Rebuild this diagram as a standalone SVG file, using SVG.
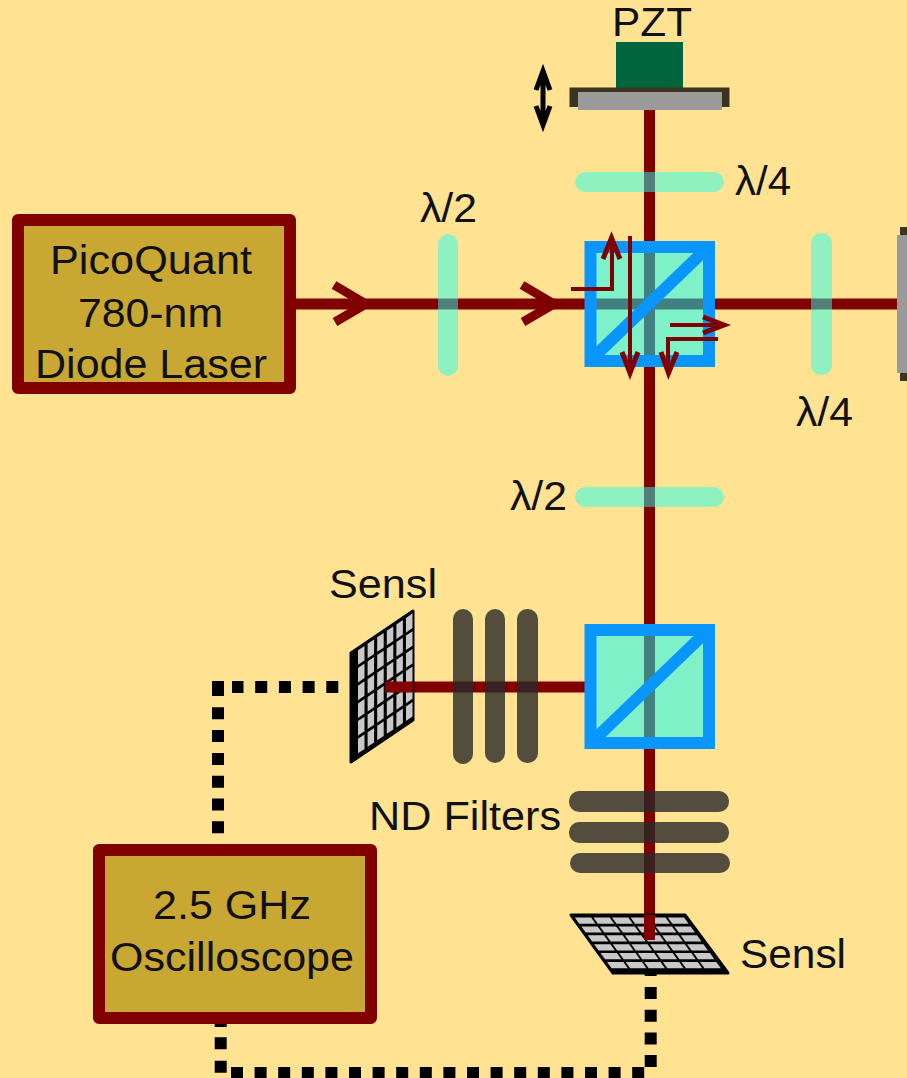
<svg xmlns="http://www.w3.org/2000/svg" width="907" height="1078" viewBox="0 0 907 1078">
<style>
text{font-family:"Liberation Sans",Arial,sans-serif;font-size:40px;fill:#111}
.beam{fill:none;stroke:#800000;stroke-width:11}
.box{fill:#c8a832;stroke:#800000;stroke-width:12;stroke-linejoin:round}
.wp{fill:#20ffee;fill-opacity:.5}
.nd{fill:#282828;fill-opacity:.8}
.cube{fill:#00ffff;fill-opacity:.5;stroke:none}
.frame-b{fill:none;stroke:#0a96ff;stroke-width:12}
.diag{stroke:#0a96ff;stroke-width:12;fill:none}
.dot{fill:none;stroke:#000;stroke-width:12}
.small{fill:none;stroke:#800000;stroke-width:4}
.head{fill:none;stroke:#800000;stroke-width:5}
.chev{fill:none;stroke:#800000;stroke-width:9}
.cell{fill:#c8c8c8}
.frame{fill:#000;stroke:#000;stroke-width:3;stroke-linejoin:round}
</style>
<defs>
<g id="lrow"><rect class="cell" x="7" y="2" width="6.500" height="14.500"/><rect class="cell" x="16.600" y="2" width="6.500" height="14.500"/><rect class="cell" x="26.200" y="2" width="6.500" height="14.500"/><rect class="cell" x="35.800" y="2" width="6.500" height="14.500"/><rect class="cell" x="45.400" y="2" width="6.500" height="14.500"/><rect class="cell" x="55" y="2" width="6.500" height="14.500"/></g>
<g id="brow"><rect class="cell" x="2" y="2.500" width="16.300" height="6.200"/><rect class="cell" x="20.600" y="2.500" width="16.300" height="6.200"/><rect class="cell" x="39.200" y="2.500" width="16.300" height="6.200"/><rect class="cell" x="57.800" y="2.500" width="16.300" height="6.200"/><rect class="cell" x="76.400" y="2.500" width="16.300" height="6.200"/><rect class="cell" x="95" y="2.500" width="16.300" height="6.200"/></g>
</defs>
<rect width="907" height="1078" fill="#ffe292"/>
<g id="connectors">
<path class="beam" d="M295 304H897"/>
<path class="beam" d="M649.500 110V940"/>
<path class="beam" d="M385 687H590"/>
<path class="chev" d="M334 285L366 304L335 322"/>
<path class="chev" d="M522 285L554 304L523 322"/>
<path class="dot" stroke-dasharray="12 11.700" d="M338.300 687H232"/>
<path class="dot" d="M224 687H212M218 681V696"/>
<path class="dot" stroke-dasharray="12 10.800" d="M218 707.300V850"/>
<path class="dot" d="M220.700 1020V1027"/>
<path class="dot" stroke-dasharray="12 11.400" d="M220.700 1037.300V1073"/>
<path class="dot" stroke-dasharray="12 11.600" d="M231 1073H645"/>
<path class="dot" stroke-dasharray="12 10.700" d="M650.700 987V1067"/>
<path class="dot" d="M650.700 968V976"/>
</g>
<g id="pzt">
<rect x="616" y="42" width="67" height="46" fill="#00643c"/>
<path d="M574 107V92H725V107" fill="none" stroke="#3a3420" stroke-width="9"/>
<rect x="578" y="92" width="144" height="18" fill="#9a9a9a"/>
<text x="612" y="36" textLength="80" lengthAdjust="spacingAndGlyphs">PZT</text>
</g>
<g id="motion"><path d="M543 72V124M536 90L543 71L550 90M536 106L543 125L550 106" fill="none" stroke="#000" stroke-width="5"/></g>
<g id="qwp-top"><rect class="wp" x="575" y="172" width="149" height="20" rx="10"/><text x="735" y="195" textLength="56" lengthAdjust="spacingAndGlyphs">λ/4</text></g>
<g id="hwp-top"><rect class="wp" x="438" y="234" width="20" height="142" rx="10"/><text x="420" y="222" textLength="57" lengthAdjust="spacingAndGlyphs">λ/2</text></g>
<g id="qwp-right"><rect class="wp" x="811" y="233" width="21" height="142" rx="10"/><text x="796" y="426" textLength="57" lengthAdjust="spacingAndGlyphs">λ/4</text></g>
<g id="hwp-low"><rect class="wp" x="575" y="487" width="149" height="20" rx="10"/><text x="510" y="510" textLength="57" lengthAdjust="spacingAndGlyphs">λ/2</text></g>
<g id="mirror-right"><rect x="900" y="227" width="7" height="154" fill="#3a3420"/><rect x="897" y="235" width="10" height="138" fill="#9a9a9a"/></g>
<g id="laser"><rect class="box" x="18" y="220" width="272" height="168"/>
<text x="50" y="274" textLength="202" lengthAdjust="spacingAndGlyphs">PicoQuant</text>
<text x="78" y="327" textLength="145" lengthAdjust="spacingAndGlyphs">780-nm</text>
<text x="35" y="378" textLength="232" lengthAdjust="spacingAndGlyphs">Diode Laser</text></g>
<g id="cube-top"><rect class="cube" x="590.500" y="247" width="118.500" height="114"/><rect class="frame-b" x="590.500" y="247" width="118.500" height="114"/><path class="diag" d="M596 355L703 252"/>
<path class="small" d="M571 289H612V240"/><path class="head" d="M603 259L611.500 238L620 259"/>
<path class="small" d="M630 236V372"/><path class="head" d="M622 352L630 373L638 352"/>
<path class="small" d="M670 325H722"/><path class="head" d="M703 317L724 325L703 333"/>
<path class="small" d="M718 339H668V372"/><path class="head" d="M661 352L668.500 373L677 352"/></g>
<g id="cube-low"><rect class="cube" x="590.500" y="630" width="118.500" height="113"/><rect class="frame-b" x="590.500" y="630" width="118.500" height="113"/><path class="diag" d="M596 738L703 635"/></g>
<g id="nd-left"><rect class="nd" x="453" y="609" width="20" height="155" rx="10"/><rect class="nd" x="485" y="609" width="20" height="154" rx="10"/><rect class="nd" x="517" y="609" width="21" height="154" rx="10"/></g>
<g id="nd-bottom"><rect class="nd" x="569" y="791" width="160" height="21" rx="10"/><rect class="nd" x="569" y="822" width="160" height="21" rx="10"/><rect class="nd" x="570" y="853" width="160" height="20" rx="10"/><text x="369" y="830" textLength="192" lengthAdjust="spacingAndGlyphs">ND Filters</text></g>
<g id="sensl-left"><text x="329" y="598" textLength="108" lengthAdjust="spacingAndGlyphs">Sensl</text>
<polygon class="frame" points="351,653 413,611 413,720 351,762"/>
<g transform="translate(351,653) skewY(-34)">
<use href="#lrow"/><use href="#lrow" y="17.700"/><use href="#lrow" y="35.400"/><use href="#lrow" y="53.100"/><use href="#lrow" y="70.800"/><use href="#lrow" y="88.500"/>
</g>
<path class="beam" d="M385 687H413"/></g>
<g id="sensl-bottom"><polygon class="frame" points="571,915 685,915 728,973 613,973"/>
<g transform="translate(571,915) skewX(35.900)">
<use href="#brow"/><use href="#brow" y="8.900"/><use href="#brow" y="17.800"/><use href="#brow" y="26.700"/><use href="#brow" y="35.600"/><use href="#brow" y="44.500"/>
</g>
<path class="beam" d="M649.500 915V940"/>
<text x="740" y="968" textLength="106" lengthAdjust="spacingAndGlyphs">Sensl</text></g>
<g id="oscilloscope"><rect class="box" x="99" y="850" width="272" height="168"/>
<text x="153" y="919" textLength="158" lengthAdjust="spacingAndGlyphs">2.5 GHz</text>
<text x="110" y="971" textLength="244" lengthAdjust="spacingAndGlyphs">Oscilloscope</text></g>
</svg>
